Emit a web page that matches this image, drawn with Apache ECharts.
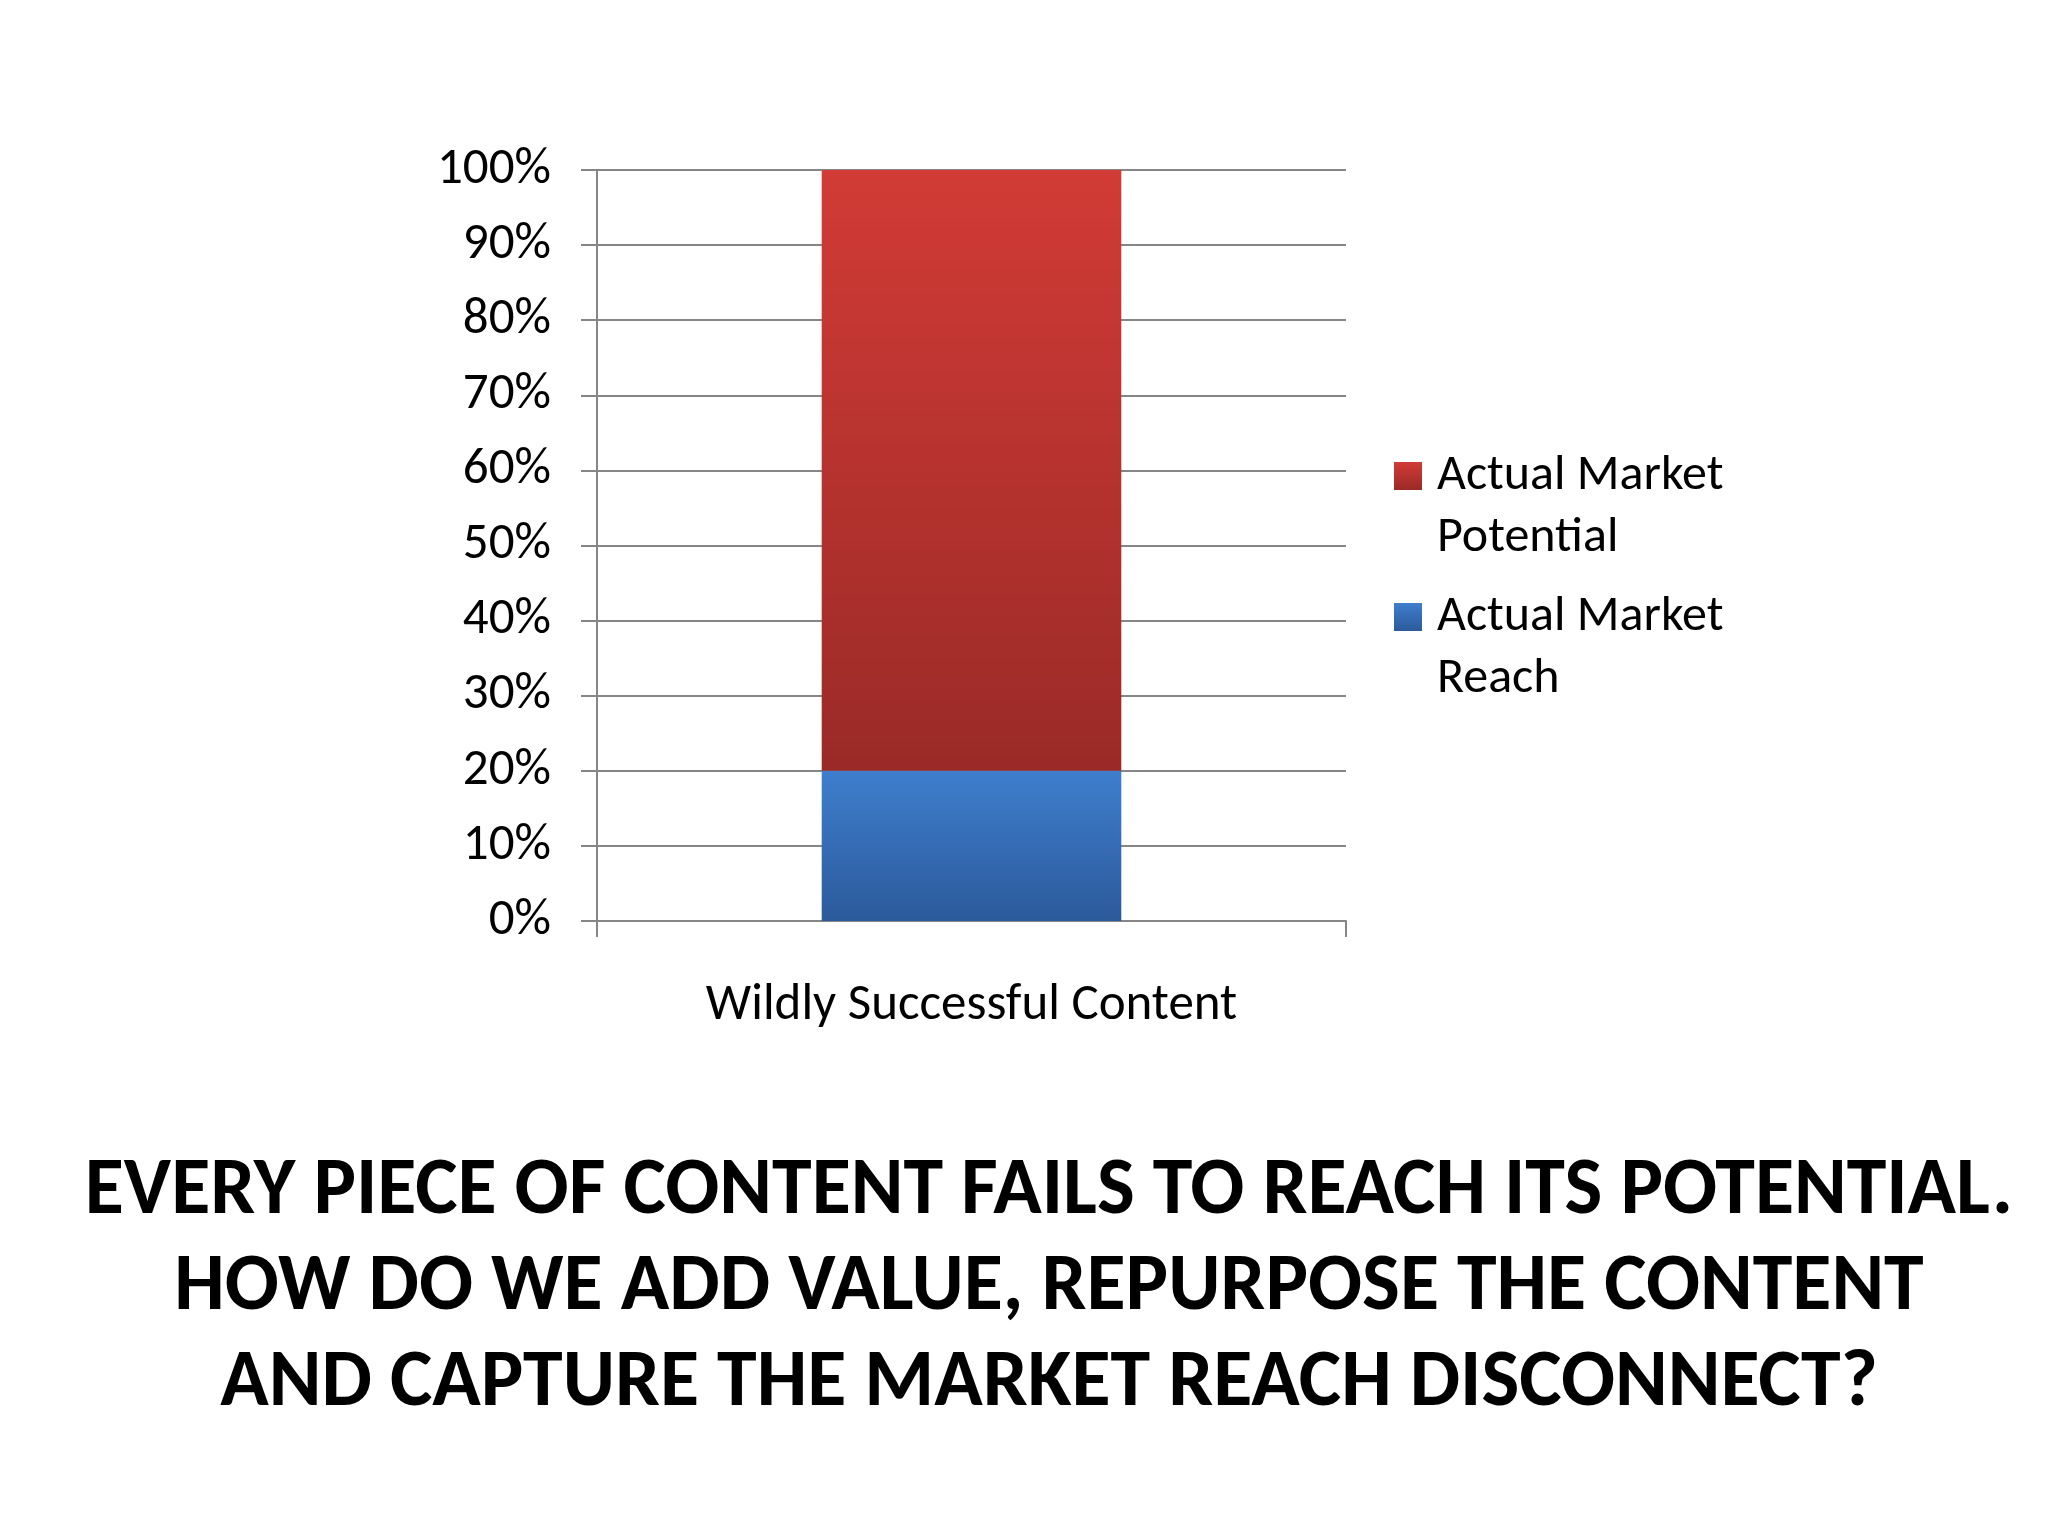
<!DOCTYPE html>
<html>
<head>
<meta charset="utf-8">
<title>Market reach</title>
<script src="https://cdn.jsdelivr.net/npm/echarts@6/dist/echarts.min.js"></script>
<style>
  html, body { margin: 0; padding: 0; background: #fff; }
  #chart { width: 2048px; height: 1536px; }
</style>
</head>
<body>
<div id="chart"></div>
<script>
// --- data ---
var categories = ['Wildly Successful Content'];
var reachValues = [20];       // Actual Market Reach (%)
var potentialValues = [80];   // Actual Market Potential (%)
var yTicks = { min: 0, max: 100, interval: 10 };
var seriesNames = ['Actual Market\nPotential', 'Actual Market\nReach'];
var titleLines = [
  'EVERY PIECE OF CONTENT FAILS TO REACH ITS POTENTIAL.',
  'HOW DO WE ADD VALUE, REPURPOSE THE CONTENT',
  'AND CAPTURE THE MARKET REACH DISCONNECT?'
];

var fontFamily = 'Carlito, Calibri, Lato, sans-serif';
var gridColor = '#868686';

function vGrad(top, bottom) {
  return new echarts.graphic.LinearGradient(0, 0, 0, 1, [
    { offset: 0, color: top },
    { offset: 1, color: bottom }
  ]);
}

var chart = echarts.init(document.getElementById('chart'));

chart.setOption({
  animation: false,
  backgroundColor: '#ffffff',
  grid: { left: 597, right: 702, top: 170, bottom: 615, containLabel: false },
  legend: {
    orient: 'vertical',
    left: 1394,
    top: 383,
    padding: 0,
    itemGap: -45,
    itemWidth: 48,
    itemHeight: 28,
    icon: 'path://M0,0H10V10H0Z',
    data: [seriesNames[0], seriesNames[1]],
    formatter: function (name) { return '\n' + name; },
    textStyle: { fontFamily: fontFamily, fontSize: 50, lineHeight: 62, color: '#000' },
    selectedMode: false
  },
  xAxis: {
    type: 'category',
    data: categories,
    axisLine: { show: true, lineStyle: { color: gridColor, width: 2 } },
    axisTick: { show: true, length: 16, lineStyle: { color: gridColor, width: 2 } },
    axisLabel: { margin: 60, fontFamily: fontFamily, fontSize: 51, lineHeight: 51, color: '#000' }
  },
  yAxis: {
    type: 'value',
    min: yTicks.min,
    max: yTicks.max,
    interval: yTicks.interval,
    axisLine: { show: true, lineStyle: { color: gridColor, width: 2 } },
    axisTick: { show: true, length: 16, lineStyle: { color: gridColor, width: 2 } },
    splitLine: { show: true, lineStyle: { color: gridColor, width: 2 } },
    axisLabel: {
      margin: 46,
      padding: [10, 0, 0, 0],
      formatter: '{value}%',
      fontFamily: fontFamily, fontSize: 51, color: '#000'
    }
  },
  series: [{
    name: seriesNames[1],
    type: 'bar',
    stack: 'total',
    barWidth: '40%',
    data: reachValues,
    itemStyle: { color: vGrad('#3e7ecd', '#2c5a9b') }
  }, {
    name: seriesNames[0],
    type: 'bar',
    stack: 'total',
    barWidth: '40%',
    data: potentialValues,
    itemStyle: { color: vGrad('#d23b36', '#9a2a27') }
  }],
  graphic: [{
    type: 'text',
    x: 1049,
    y: 1145,
    style: {
      text: titleLines.join('\n'),
      fontFamily: fontFamily,
      fontWeight: 'bold',
      fontSize: 80,
      lineHeight: 96,
      fill: '#000',
      align: 'center',
      verticalAlign: 'top'
    }
  }]
});
</script>
</body>
</html>
